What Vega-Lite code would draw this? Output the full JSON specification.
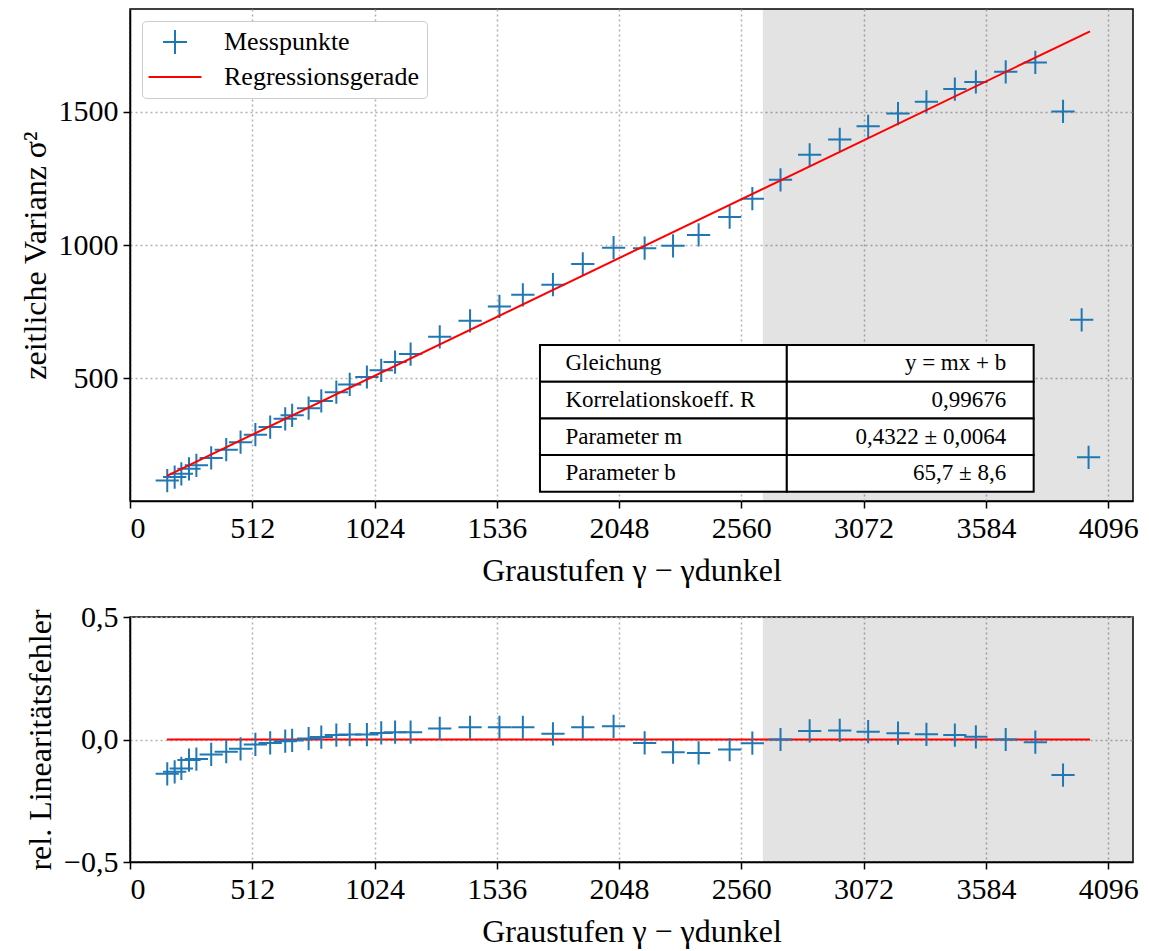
{
  "$schema": "https://vega.github.io/schema/vega-lite/v6.json",
  "padding": {"left": 18, "top": 8, "right": 10, "bottom": 5},
  "background": "white",
  "config": {
    "font": "Liberation Serif",
    "view": {"stroke": "black", "strokeWidth": 1.5},
    "axis": {
      "labelFont": "Liberation Serif", "labelFontSize": 30, "labelColor": "black",
      "titleFont": "Liberation Serif", "titleFontSize": 32, "titleFontWeight": "normal", "titleColor": "black",
      "domainColor": "black", "domainWidth": 1.5, "tickColor": "black", "tickWidth": 1.5, "tickSize": 7,
      "gridColor": "#b0b0b0", "gridDash": [2, 3], "gridWidth": 1.5, "labelPadding": 5
    },
    "axisX": {"titlePadding": 12},
    "axisY": {"titlePadding": 6}
  },
  "datasets": {
    "messung": [
      {"x": 156, "var": 115}, {"x": 187, "var": 128}, {"x": 215, "var": 140}, {"x": 247, "var": 159},
      {"x": 278, "var": 172}, {"x": 340, "var": 200}, {"x": 403, "var": 231}, {"x": 463, "var": 259},
      {"x": 525, "var": 287}, {"x": 587, "var": 316}, {"x": 650, "var": 347}, {"x": 679, "var": 360},
      {"x": 748, "var": 387}, {"x": 801, "var": 414}, {"x": 864, "var": 447}, {"x": 920, "var": 476},
      {"x": 992, "var": 504}, {"x": 1052, "var": 529}, {"x": 1110, "var": 560}, {"x": 1175, "var": 590},
      {"x": 1297, "var": 655}, {"x": 1424, "var": 715}, {"x": 1547, "var": 769}, {"x": 1645, "var": 813},
      {"x": 1771, "var": 851}, {"x": 1896, "var": 929}, {"x": 2025, "var": 990}, {"x": 2155, "var": 988},
      {"x": 2274, "var": 997}, {"x": 2381, "var": 1038}, {"x": 2511, "var": 1105}, {"x": 2606, "var": 1174},
      {"x": 2724, "var": 1245}, {"x": 2846, "var": 1339}, {"x": 2972, "var": 1397}, {"x": 3091, "var": 1446},
      {"x": 3216, "var": 1494}, {"x": 3335, "var": 1538}, {"x": 3454, "var": 1586}, {"x": 3542, "var": 1613},
      {"x": 3667, "var": 1651}, {"x": 3791, "var": 1686}, {"x": 3907, "var": 1502}, {"x": 3985, "var": 719},
      {"x": 4014, "var": 202}
    ],
    "fehler": [
      {"x": 156, "r": -0.140}, {"x": 187, "r": -0.132}, {"x": 215, "r": -0.118}, {"x": 247, "r": -0.084},
      {"x": 278, "r": -0.080}, {"x": 340, "r": -0.061}, {"x": 403, "r": -0.050}, {"x": 463, "r": -0.038},
      {"x": 525, "r": -0.020}, {"x": 587, "r": -0.014}, {"x": 650, "r": -0.007}, {"x": 679, "r": -0.004},
      {"x": 748, "r": 0.004}, {"x": 801, "r": 0.010}, {"x": 864, "r": 0.018}, {"x": 920, "r": 0.020},
      {"x": 992, "r": 0.020}, {"x": 1052, "r": 0.027}, {"x": 1110, "r": 0.030}, {"x": 1175, "r": 0.030},
      {"x": 1297, "r": 0.045}, {"x": 1424, "r": 0.050}, {"x": 1547, "r": 0.050}, {"x": 1645, "r": 0.050},
      {"x": 1771, "r": 0.023}, {"x": 1896, "r": 0.050}, {"x": 2025, "r": 0.054}, {"x": 2155, "r": -0.014},
      {"x": 2274, "r": -0.052}, {"x": 2381, "r": -0.055}, {"x": 2511, "r": -0.041}, {"x": 2606, "r": -0.015},
      {"x": 2724, "r": 0.000}, {"x": 2846, "r": 0.035}, {"x": 2972, "r": 0.037}, {"x": 3091, "r": 0.032},
      {"x": 3216, "r": 0.026}, {"x": 3335, "r": 0.021}, {"x": 3454, "r": 0.018}, {"x": 3542, "r": 0.011},
      {"x": 3667, "r": 0.000}, {"x": 3791, "r": -0.011}, {"x": 3907, "r": -0.145}
    ],
    "gerade": [{"x": 155, "var": 132.7}, {"x": 4020, "var": 1803.1}],
    "nulllinie": [{"x": 155, "r": 0}, {"x": 4020, "r": 0}],
    "bereich": [{"von": 2650, "bis": 4200}],
    "tabelle": [
      {"bez": "Gleichung", "wert": "y = mx + b"},
      {"bez": "Korrelationskoeff. R", "wert": "0,99676"},
      {"bez": "Parameter m", "wert": "0,4322 ± 0,0064"},
      {"bez": "Parameter b", "wert": "65,7 ± 8,6"}
    ]
  },
  "spacing": 14,
  "resolve": {
    "scale": {"color": "independent", "shape": "independent"},
    "legend": {"color": "independent", "shape": "independent"}
  },
  "vconcat": [
    {
      "width": 1003,
      "height": 492,
      "resolve": {"scale": {"x": "independent", "y": "independent"}},
      "layer": [
        {
          "layer": [
            {
              "data": {"name": "bereich"},
              "mark": {"type": "rect", "color": "black", "opacity": 0.11, "clip": true},
              "encoding": {
                "x": {"field": "von", "type": "quantitative", "scale": {"domain": [0, 4200], "nice": false, "zero": false}},
                "x2": {"field": "bis"},
                "y": {"datum": 38, "type": "quantitative", "scale": {"domain": [38, 1887], "nice": false, "zero": false}},
                "y2": {"datum": 1887}
              }
            },
            {
              "data": {"name": "messung"},
              "mark": {"type": "point", "filled": false, "strokeWidth": 2, "size": 540, "opacity": 1},
              "encoding": {
                "x": {"field": "x", "type": "quantitative", "title": "Graustufen γ − γdunkel",
                      "scale": {"domain": [0, 4200], "nice": false, "zero": false},
                      "axis": {"values": [0, 512, 1024, 1536, 2048, 2560, 3072, 3584, 4096], "format": "d", "grid": true}},
                "y": {"field": "var", "type": "quantitative", "title": "zeitliche Varianz σ²",
                      "scale": {"domain": [38, 1887], "nice": false, "zero": false},
                      "axis": {"values": [500, 1000, 1500], "format": "d", "grid": true}},
                "color": {"datum": "Messpunkte",
                          "scale": {"domain": ["Messpunkte", "Regressionsgerade"], "range": ["#1f77b4", "#ff0000"]},
                          "legend": {"orient": "top-left", "offset": 12, "title": null, "padding": 8,
                                     "strokeColor": "#cccccc", "fillColor": "white", "cornerRadius": 4,
                                     "labelFont": "Liberation Serif", "labelFontSize": 26, "labelColor": "black", "labelLimit": 400,
                                     "symbolSize": 576, "symbolStrokeWidth": 2, "symbolOffset": 12, "labelOffset": 36, "rowPadding": 6}},
                "shape": {"datum": "Messpunkte",
                          "scale": {"domain": ["Messpunkte", "Regressionsgerade"], "range": ["M-1,0L1,0M0,-1L0,1", "M-2.2,0L2.2,0"]},
                          "legend": {"orient": "top-left", "offset": 12, "title": null, "padding": 8,
                                     "strokeColor": "#cccccc", "fillColor": "white", "cornerRadius": 4,
                                     "labelFont": "Liberation Serif", "labelFontSize": 26, "labelColor": "black", "labelLimit": 400,
                                     "symbolSize": 576, "symbolStrokeWidth": 2, "symbolOffset": 12, "labelOffset": 36, "rowPadding": 6}}
              }
            },
            {
              "data": {"name": "gerade"},
              "mark": {"type": "line", "strokeWidth": 2},
              "encoding": {
                "x": {"field": "x", "type": "quantitative", "title": "Graustufen γ − γdunkel", "scale": {"domain": [0, 4200], "nice": false, "zero": false}},
                "y": {"field": "var", "type": "quantitative", "title": "zeitliche Varianz σ²", "scale": {"domain": [38, 1887], "nice": false, "zero": false}},
                "color": {"datum": "Regressionsgerade"}
              }
            }
          ]
        },
        {
          "data": {"name": "tabelle"},
          "layer": [
            {
              "mark": {"type": "rect", "fill": "white", "stroke": "black", "strokeWidth": 2},
              "encoding": {
                "x": {"datum": "L", "type": "nominal", "scale": {"domain": ["_", "L", "R"], "paddingInner": 0, "paddingOuter": 0.5316, "align": 0.6215}, "axis": null},
                "y": {"field": "bez", "type": "nominal", "sort": null, "scale": {"domain": ["_1", "_2", "_3", "_4", "_5", "_6", "_7", "_8", "_9", "Gleichung", "Korrelationskoeff. R", "Parameter m", "Parameter b"], "paddingInner": 0, "paddingOuter": 0.207, "align": 0.39}, "axis": null}
              }
            },
            {
              "mark": {"type": "rect", "fill": "white", "stroke": "black", "strokeWidth": 2},
              "encoding": {
                "x": {"datum": "R", "type": "nominal"},
                "y": {"field": "bez", "type": "nominal", "sort": null}
              }
            },
            {
              "mark": {"type": "text", "align": "left", "baseline": "middle", "dx": -98, "font": "Liberation Serif", "fontSize": 23, "color": "black"},
              "encoding": {
                "x": {"datum": "L", "type": "nominal"},
                "y": {"field": "bez", "type": "nominal", "sort": null},
                "text": {"field": "bez"}
              }
            },
            {
              "mark": {"type": "text", "align": "right", "baseline": "middle", "dx": 96, "font": "Liberation Serif", "fontSize": 23, "color": "black"},
              "encoding": {
                "x": {"datum": "R", "type": "nominal"},
                "y": {"field": "bez", "type": "nominal", "sort": null},
                "text": {"field": "wert"}
              }
            }
          ]
        }
      ]
    },
    {
      "width": 1003,
      "height": 245,
      "layer": [
        {
          "data": {"name": "bereich"},
          "mark": {"type": "rect", "color": "black", "opacity": 0.11, "clip": true},
          "encoding": {
            "x": {"field": "von", "type": "quantitative", "scale": {"domain": [0, 4200], "nice": false, "zero": false}},
            "x2": {"field": "bis"},
            "y": {"datum": -0.5, "type": "quantitative", "scale": {"domain": [-0.5, 0.5], "nice": false, "zero": false}},
            "y2": {"datum": 0.5}
          }
        },
        {
          "data": {"name": "nulllinie"},
          "mark": {"type": "line", "strokeWidth": 2, "color": "#ff0000"},
          "encoding": {
            "x": {"field": "x", "type": "quantitative", "title": "Graustufen γ − γdunkel", "scale": {"domain": [0, 4200], "nice": false, "zero": false}},
            "y": {"field": "r", "type": "quantitative", "title": "rel. Linearitätsfehler", "scale": {"domain": [-0.5, 0.5], "nice": false, "zero": false}}
          }
        },
        {
          "data": {"name": "fehler"},
          "mark": {"type": "point", "filled": false, "strokeWidth": 2, "size": 540, "opacity": 1, "color": "#1f77b4", "shape": "M-1,0L1,0M0,-1L0,1"},
          "encoding": {
            "x": {"field": "x", "type": "quantitative", "title": "Graustufen γ − γdunkel",
                  "scale": {"domain": [0, 4200], "nice": false, "zero": false},
                  "axis": {"values": [0, 512, 1024, 1536, 2048, 2560, 3072, 3584, 4096], "format": "d", "grid": true}},
            "y": {"field": "r", "type": "quantitative", "title": "rel. Linearitätsfehler",
                  "scale": {"domain": [-0.5, 0.5], "nice": false, "zero": false},
                  "axis": {"values": [-0.5, 0, 0.5], "labelExpr": "replace(format(datum.value, '.1f'), '.', ',')", "grid": true}}
          }
        }
      ]
    }
  ]
}
